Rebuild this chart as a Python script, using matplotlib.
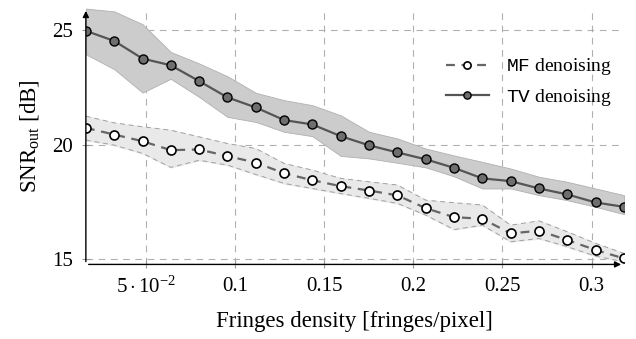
import numpy as np
import matplotlib
matplotlib.use("Agg")
from matplotlib import pyplot as plt

plt.rcParams['font.family'] = 'Liberation Serif'
plt.rcParams['mathtext.fontset'] = 'custom'
plt.rcParams['mathtext.rm'] = 'Liberation Serif'
plt.rcParams['mathtext.it'] = 'Liberation Serif:italic'
plt.rcParams['mathtext.tt'] = 'Liberation Mono'

# fringes density [fringes/pixel]
density = [0.0164, 0.0323, 0.0482, 0.0640, 0.0799, 0.0958, 0.1117, 0.1276, 0.1434, 0.1593,
           0.1752, 0.1911, 0.2070, 0.2228, 0.2387, 0.2546, 0.2705, 0.2864, 0.3022, 0.3181]

tv_snr = [24.96, 24.52, 23.75, 23.46, 22.77, 22.06, 21.62, 21.07, 20.88, 20.37,
          19.97, 19.66, 19.36, 18.99, 18.53, 18.41, 18.09, 17.83, 17.48, 17.29]
tv_hi = [25.93, 25.81, 25.25, 24.04, 23.54, 22.98, 22.26, 21.94, 21.72, 21.28,
         20.56, 20.27, 19.83, 19.53, 19.25, 18.96, 18.60, 18.38, 18.09, 17.80]
tv_lo = [23.94, 23.29, 22.27, 22.87, 22.08, 21.21, 20.99, 20.56, 20.37, 19.51,
         19.40, 19.21, 19.01, 18.62, 18.09, 18.09, 17.80, 17.58, 17.29, 16.97]

mf_snr = [20.73, 20.44, 20.15, 19.76, 19.79, 19.50, 19.22, 18.75, 18.45, 18.19,
          18.00, 17.79, 17.23, 16.84, 16.77, 16.13, 16.25, 15.84, 15.41, 15.04]
mf_hi = [21.24, 20.95, 20.78, 20.63, 20.34, 20.05, 19.83, 19.18, 18.89, 18.53,
         18.38, 18.24, 17.58, 17.47, 17.37, 16.49, 16.68, 16.20, 15.70, 15.26]
mf_lo = [20.20, 19.98, 19.62, 19.01, 19.32, 19.11, 18.70, 18.31, 18.09, 17.87,
         17.66, 17.44, 16.93, 16.30, 16.49, 15.77, 15.91, 15.55, 15.14, 14.90]

xticks = [0.05, 0.1, 0.15, 0.2, 0.25, 0.3]
xticklabels = [r'$5\cdot10^{-2}$', '0.1', '0.15', '0.2', '0.25', '0.3']
yticks = [15, 20, 25]

fig = plt.figure(figsize=(6.36, 3.39), dpi=100)
ax = fig.add_axes([0.135, 0.22, 0.846, 0.756])

ax.fill_between(density, tv_lo, tv_hi, color='#cccccc', lw=0.6, edgecolor='#b0b0b0', zorder=1)
ax.fill_between(density, mf_lo, mf_hi, color='#e9e9e9', zorder=1)
ax.plot(density, mf_hi, color='#a0a0a0', lw=0.7, ls=(0, (5, 4)), zorder=1.5)
ax.plot(density, mf_lo, color='#a0a0a0', lw=0.7, ls=(0, (5, 4)), zorder=1.5)

ax.plot(density, mf_snr, color='#666666', lw=1.6, ls=(0, (4, 3)), marker='o', ms=6.5,
        mfc='white', mec='black', mew=1.2, label=r'$\mathtt{MF}$ denoising', zorder=3)
ax.plot(density, tv_snr, color='#555555', lw=1.6, marker='o', ms=6.5,
        mfc='#6e6e6e', mec='black', mew=1.0, label=r'$\mathtt{TV}$ denoising', zorder=3)

ax.set_xlim(0.0164, 0.3181)
ax.set_ylim(14.78, 25.95)
ax.set_xticks(xticks)
ax.set_xticklabels(xticklabels)
ax.set_yticks(yticks)
ax.tick_params(labelsize=15, direction='inout', length=6, color='#999999', width=0.8, pad=6)
ax.grid(True, color='#b0b0b0', ls=(0, (6, 5)), lw=0.8)
ax.set_axisbelow(True)

for s in ax.spines.values():
    s.set_visible(False)
ax.annotate('', xy=(0, 1.0), xytext=(0, 0), xycoords='axes fraction',
            arrowprops=dict(arrowstyle='-|>', color='black', lw=1.0, mutation_scale=9))
ax.annotate('', xy=(1.0, 0), xytext=(0, 0), xycoords='axes fraction',
            arrowprops=dict(arrowstyle='-|>', color='black', lw=1.0, mutation_scale=9))

ax.set_xlabel('Fringes density [fringes/pixel]', fontsize=16.5, labelpad=9)
ax.set_ylabel(r'SNR$_{\mathrm{out}}$ [dB]', fontsize=16.5, labelpad=8)

leg = ax.legend(loc='upper right', bbox_to_anchor=(1.01, 0.88), frameon=False, fontsize=14,
                handlelength=2.2, markerscale=0.8, labelspacing=0.5, handletextpad=0.9)

fig.savefig('out.png', dpi=100)
